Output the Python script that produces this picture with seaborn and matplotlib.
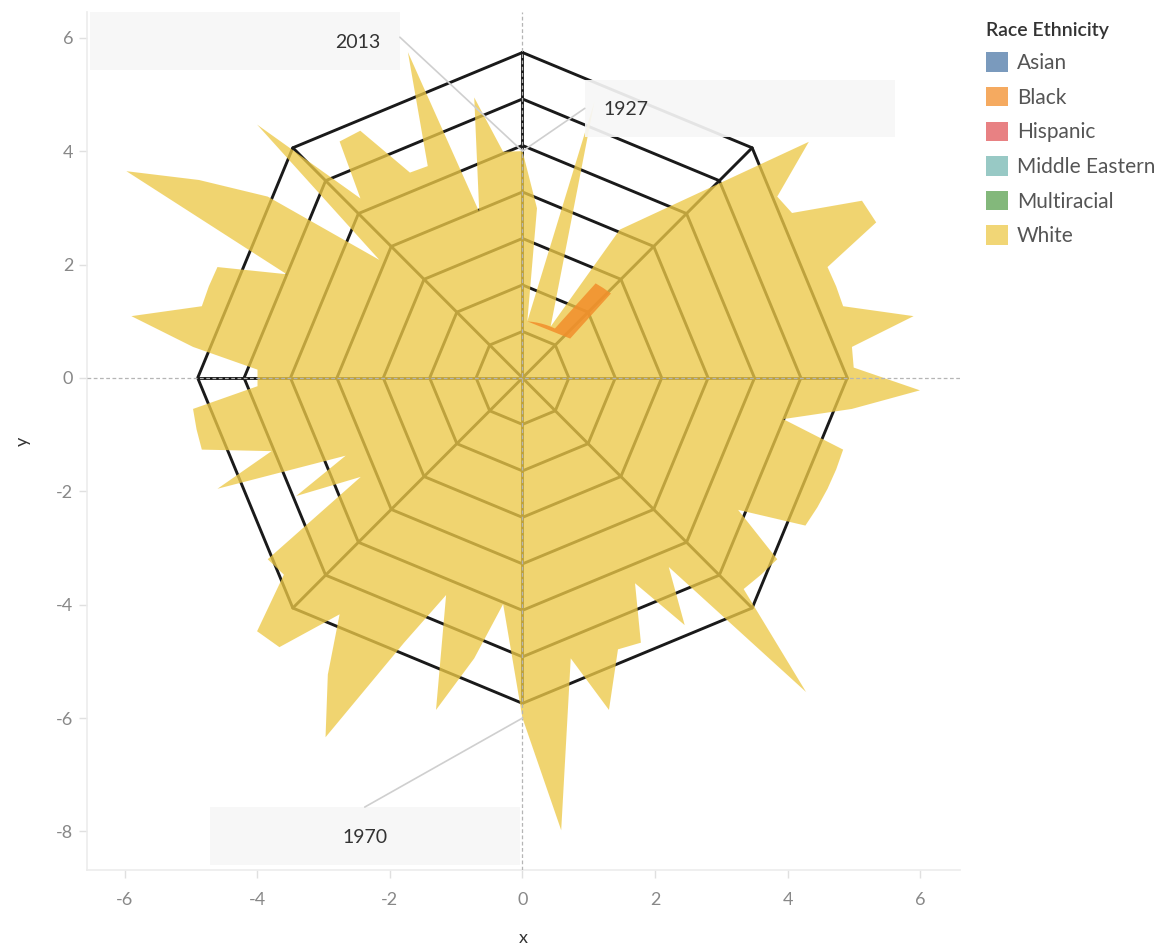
import numpy as np
import pandas as pd
import seaborn as sns
from matplotlib import pyplot as plt
from matplotlib.patches import Patch, Rectangle

sns.set_style('white')
plt.rcParams['font.family'] = ['Lato', 'DejaVu Sans']
plt.rcParams['axes.unicode_minus'] = False

# One step per year, 1927 .. 2013 around the circle (1927 and 2013 share the top)
first_year = 1927
n_steps = 86

# White outline: step along the circle (0 = 1927) and radius
white_pos = [0, 1, 1, 3, 6, 7] + list(range(11, 87))
white_r = [4, 3, 1, 5, 1, 3,
           6, 5, 5, 6, 6, 5, 5, 5, 6, 5,      # 11-20
           5, 6, 5, 4, 5, 5, 5, 5, 5, 4,      # 21-30
           5, 5, 5, 7, 4, 5, 4, 5, 5, 6,      # 31-40
           5, 8, 6, 4, 5, 6, 4, 5, 7, 6,      # 41-50
           5, 6, 6, 5, 5, 3, 4, 3, 5, 4,      # 51-60
           5, 5, 5, 4, 4, 5, 6, 5, 5, 5,      # 61-70
           4, 7, 6, 5, 3, 6, 4, 5, 5, 4,      # 71-80
           4, 6, 3, 5, 4, 4]                  # 81-86

# Black outline
black_pos = list(range(1, 12))
black_r = [1, 1, 1, 1, 1, 1, 1, 2, 2, 2, 1]

# Grid: 7 octagon rings, step per ring in x and y units
n_rings = 7
ring_step_x = 0.70
ring_step_y = 0.82

races = ['Asian', 'Black', 'Hispanic', 'Middle Eastern', 'Multiracial', 'White']
race_colors = ['#4E79A7', '#F28E2B', '#E15759', '#76B7B2', '#59A14F', '#EDC948']

# Year labels: (year, box x0, box x1, box y0, box y1, text x, text y)
labels = [(2013, -6.52, -1.85, 5.43, 6.46, -2.48, 5.91),
          (1927, 0.94, 5.62, 4.25, 5.26, 1.56, 4.73),
          (1970, -4.71, -0.04, -8.59, -7.57, -2.38, -8.11)]


def to_xy(pos, r):
    ang = np.radians(np.array(pos) * 360.0 / n_steps)
    r = np.array(r, dtype=float)
    return r * np.sin(ang), r * np.cos(ang)


def year_point(year):
    i = year - first_year
    k = max(j for j, p in enumerate(white_pos) if p == i)
    x, y = to_xy([i], [white_r[k]])
    return x[0], y[0]


fig = plt.figure(figsize=(11.69, 9.5), dpi=100)
ax = fig.add_axes([0.0744, 0.0842, 0.7468, 0.9032])

# Grid rings and spokes
oct_ang = np.radians(np.arange(0, 361, 45))
rows = []
for k in range(1, n_rings + 1):
    for j, a in enumerate(oct_ang):
        rows.append({'x': k * ring_step_x * np.sin(a), 'y': k * ring_step_y * np.cos(a),
                     'unit': 'ring%d' % k, 'order': j})
for j, a in enumerate(oct_ang[:-1]):
    rows.append({'x': 0.0, 'y': 0.0, 'unit': 'spoke%d' % j, 'order': 0})
    rows.append({'x': n_rings * ring_step_x * np.sin(a), 'y': n_rings * ring_step_y * np.cos(a),
                 'unit': 'spoke%d' % j, 'order': 1})
grid = pd.DataFrame(rows)
sns.lineplot(data=grid, x='x', y='y', units='unit', estimator=None, sort=False,
             color='#1a1a1a', linewidth=2.1, ax=ax, zorder=2)

# Race polygons
wx, wy = to_xy(white_pos, white_r)
ax.fill(wx, wy, color=race_colors[5], alpha=0.78, lw=0, zorder=3)
bx, by = to_xy(black_pos, black_r)
ax.fill(bx, by, color=race_colors[1], alpha=0.85, lw=0, zorder=4)

# Zero reference lines
ax.axhline(0, color='#b5b5b5', lw=0.9, ls=(0, (3, 2)), zorder=5)
ax.axvline(0, color='#b5b5b5', lw=0.9, ls=(0, (3, 2)), zorder=5)

# Year annotations
for year, x0, x1, y0, y1, tx, ty in labels:
    ax.add_patch(Rectangle((x0, y0), x1 - x0, y1 - y0, facecolor='#f7f7f7',
                           alpha=0.92, edgecolor='none', zorder=6))
    px, py = year_point(year)
    if year == 2013:
        sx, sy = x1, y1 - 0.45
    elif year == 1927:
        sx, sy = x0, (y0 + y1) / 2
    else:
        sx, sy = tx, y1
    ax.plot([sx, px], [sy, py], color='#cfcfcf', lw=1.2, zorder=7)
    ax.text(tx, ty, str(year), ha='center', va='center', fontsize=14,
            color='#333333', zorder=8)

ax.set_xlim(-6.57, 6.60)
ax.set_ylim(-8.68, 6.455)
ax.set_xticks(np.arange(-6, 7, 2))
ax.set_yticks(np.arange(-8, 7, 2))
ax.tick_params(axis='both', labelsize=13, labelcolor='#888888', color='#e0e0e0',
               length=6, width=1, direction='out')
ax.tick_params(axis='x', pad=10)
ax.tick_params(axis='y', pad=4)
ax.tick_params(axis='both', bottom=True, left=True)
for side in ['top', 'right']:
    ax.spines[side].set_visible(False)
for side in ['left', 'bottom']:
    ax.spines[side].set_color('#ececec')
    ax.spines[side].set_linewidth(1.2)
ax.set_xlabel('x', fontsize=13, color='#333333', labelpad=16)
ax.set_ylabel('y', fontsize=13, color='#333333', labelpad=18)

handles = [Patch(facecolor=c, alpha=0.75, edgecolor='none') for c in race_colors]
leg = fig.legend(handles, races, loc='upper left', bbox_to_anchor=(0.836, 0.986),
                 frameon=False, title='Race Ethnicity', fontsize=15,
                 title_fontsize=14, handlelength=1.06, handleheight=1.06,
                 handletextpad=0.45, labelspacing=0.66, borderaxespad=0)
leg._legend_box.align = 'left'
leg.get_title().set_color('#333333')
leg.get_title().set_fontweight('semibold')
for t in leg.get_texts():
    t.set_color('#555555')

fig.savefig('out.png', dpi=100)
